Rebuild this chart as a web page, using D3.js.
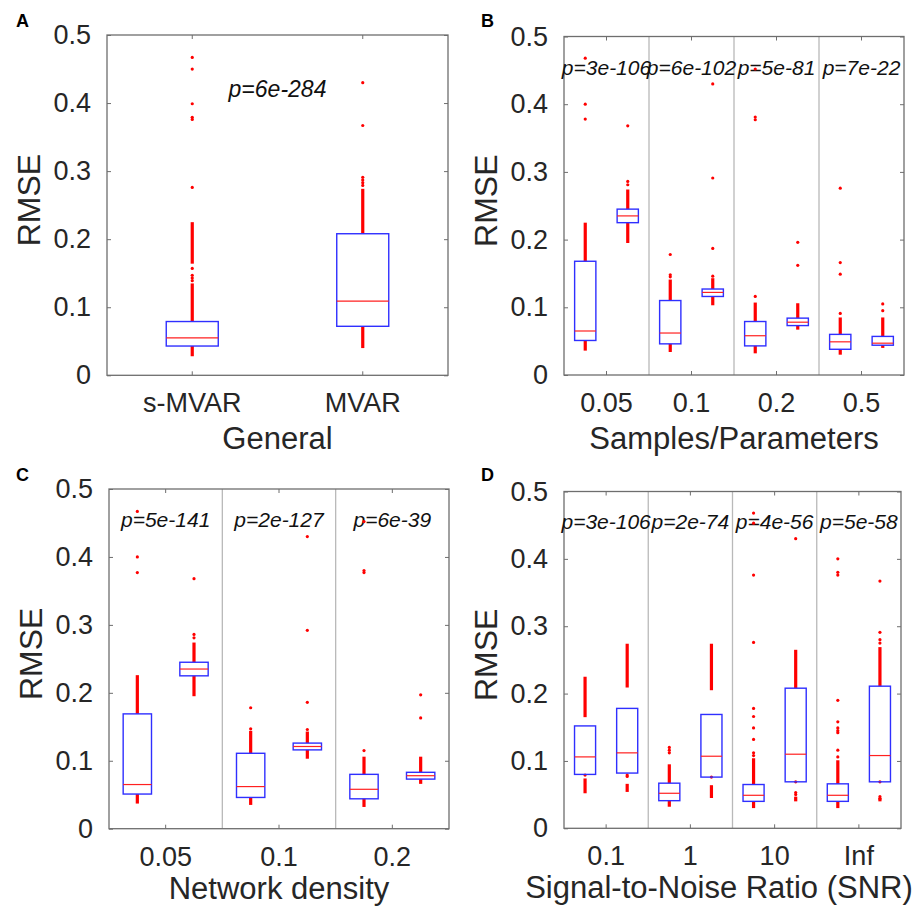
<!DOCTYPE html>
<html><head><meta charset="utf-8">
<script src="https://cdn.jsdelivr.net/npm/d3@7"></script>
<style>body{margin:0;background:#fff} svg{display:block;font-family:"Liberation Sans",Arial,Helvetica,sans-serif}</style>
</head><body><svg id="chart" width="919" height="909"></svg>
<script>
// ---------- data ----------
const seriesNames = ["s-MVAR", "MVAR"];
const yTickValues = [0, 0.1, 0.2, 0.3, 0.4, 0.5];
const yTickLabels = ["0", "0.1", "0.2", "0.3", "0.4", "0.5"];

// Panel A (General) : box stats = [q1, median, q3]
const groupsA = ["General"];
const boxA_s = [[0.043, 0.055, 0.079]];
const boxA_m = [[0.072, 0.109, 0.208]];
const ptsA_s = [[0.467, 0.450, 0.399, 0.379, 0.376, 0.276, 0.157, 0.147, 0.143, 0.139]];
const runsA_s = [[[0.028, 0.043], [0.079, 0.135], [0.164, 0.225]]];
const ptsA_m = [[0.430, 0.367, 0.291, 0.287, 0.283, 0.279]];
const runsA_m = [[[0.040, 0.072], [0.208, 0.274]]];
const pA = ["p=6e-284"];

// Panel B (Samples/Parameters)
const groupsB = ["0.05", "0.1", "0.2", "0.5"];
const boxB_s = [[0.051, 0.065, 0.168], [0.046, 0.062, 0.110], [0.043, 0.058, 0.079], [0.038, 0.049, 0.060]];
const boxB_m = [[0.225, 0.235, 0.245], [0.116, 0.122, 0.127], [0.073, 0.078, 0.084], [0.044, 0.047, 0.057]];
const ptsB_s = [[0.468, 0.400, 0.378], [0.178, 0.148, 0.145], [0.452, 0.381, 0.377, 0.116], [0.276, 0.166, 0.149, 0.091]];
const runsB_s = [[[0.036, 0.051], [0.168, 0.225]], [[0.034, 0.046], [0.110, 0.141]], [[0.032, 0.043], [0.079, 0.107]], [[0.030, 0.038], [0.060, 0.085]]];
const ptsB_m = [[0.368, 0.286, 0.281], [0.430, 0.291, 0.187, 0.146], [0.196, 0.162], [0.105, 0.095]];
const runsB_m = [[[0.195, 0.225], [0.245, 0.274]], [[0.103, 0.116], [0.127, 0.143]], [[0.067, 0.073], [0.084, 0.106]], [[0.040, 0.044], [0.057, 0.085]]];
const pB = ["p=3e-106", "p=6e-102", "p=5e-81", "p=7e-22"];

// Panel C (Network density)
const groupsC = ["0.05", "0.1", "0.2"];
const boxC_s = [[0.051, 0.065, 0.169], [0.046, 0.062, 0.111], [0.044, 0.058, 0.080]];
const boxC_m = [[0.225, 0.235, 0.245], [0.116, 0.121, 0.126], [0.073, 0.078, 0.083]];
const ptsC_s = [[0.467, 0.400, 0.377], [0.178, 0.147], [0.452, 0.380, 0.377, 0.115]];
const runsC_s = [[[0.037, 0.051], [0.169, 0.226]], [[0.035, 0.046], [0.111, 0.144]], [[0.032, 0.044], [0.080, 0.106]]];
const ptsC_m = [[0.368, 0.286, 0.281], [0.430, 0.292, 0.186, 0.146], [0.197, 0.163]];
const runsC_m = [[[0.195, 0.225], [0.245, 0.274]], [[0.103, 0.116], [0.126, 0.143]], [[0.066, 0.073], [0.083, 0.106]]];
const pC = ["p=5e-141", "p=2e-127", "p=6e-39"];

// Panel D (Signal-to-Noise Ratio)
const groupsD = ["0.1", "1", "10", "Inf"];
const boxD_s = [[0.080, 0.106, 0.152], [0.041, 0.052, 0.067], [0.040, 0.049, 0.065], [0.040, 0.049, 0.066]];
const boxD_m = [[0.082, 0.112, 0.178], [0.076, 0.107, 0.169], [0.069, 0.110, 0.208], [0.069, 0.108, 0.211]];
const ptsD_s = [[0.079], [0.120, 0.116, 0.112], [0.468, 0.453, 0.376, 0.276, 0.178, 0.166, 0.149, 0.132, 0.112, 0.108], [0.400, 0.380, 0.376, 0.190, 0.158, 0.149, 0.145, 0.142, 0.116, 0.106]];
const runsD_s = [[[0.052, 0.074], [0.165, 0.225]], [[0.032, 0.041], [0.067, 0.095]], [[0.030, 0.040], [0.065, 0.104]], [[0.030, 0.040], [0.066, 0.101]]];
const ptsD_m = [[0.079, 0.077], [0.076], [0.430, 0.069, 0.053, 0.050], [0.367, 0.291, 0.280, 0.275, 0.069, 0.047, 0.044]];
const runsD_m = [[[0.054, 0.066], [0.209, 0.274]], [[0.045, 0.064], [0.205, 0.274]], [[0.040, 0.047], [0.208, 0.265]], [[0.040, 0.045], [0.211, 0.269]]];
const pD = ["p=3e-106", "p=2e-74", "p=4e-56", "p=5e-58"];

// ---------- layout ----------
const panels = [
  {letter: "A", lx: 16, ly: 27, left: 107, right: 448, top: 35, bottom: 375.3, single: true, boxFrac: 0.305,
   groups: groupsA, box: [boxA_s, boxA_m], pts: [ptsA_s, ptsA_m], runs: [runsA_s, runsA_m], pTexts: pA, pY: 0.421, pSize: 23,
   title: "General", titleDx: 0, titleDy: 74},
  {letter: "B", lx: 481, ly: 27, left: 564, right: 904, top: 36.5, bottom: 375, single: false, boxFrac: 0.5,
   groups: groupsB, box: [boxB_s, boxB_m], pts: [ptsB_s, ptsB_m], runs: [runsB_s, runsB_m], pTexts: pB, pY: 0.455, pSize: 21,
   title: "Samples/Parameters", titleDx: 0, titleDy: 74},
  {letter: "C", lx: 16, ly: 480.5, left: 109, right: 449, top: 489, bottom: 828.7, single: false, boxFrac: 0.5,
   groups: groupsC, box: [boxC_s, boxC_m], pts: [ptsC_s, ptsC_m], runs: [runsC_s, runsC_m], pTexts: pC, pY: 0.455, pSize: 21,
   title: "Network density", titleDx: 0, titleDy: 70},
  {letter: "D", lx: 481, ly: 480.5, left: 564, right: 901, top: 491.5, bottom: 828.3, single: false, boxFrac: 0.5,
   groups: groupsD, box: [boxD_s, boxD_m], pts: [ptsD_s, ptsD_m], runs: [runsD_s, runsD_m], pTexts: pD, pY: 0.455, pSize: 21,
   title: "Signal-to-Noise Ratio (SNR)", titleDx: -13.5, titleDy: 70}
];

const svg = d3.select("#chart");
const TXT = "#262626", FRAME = "#6e6e6e";

panels.forEach(cfg => {
  const g = svg.append("g");
  const y = d3.scaleLinear().domain([0, 0.5]).range([cfg.bottom, cfg.top]);
  const gx = d3.scaleBand().domain(cfg.groups).range([cfg.left, cfg.right]).padding(0);
  const ix = d3.scaleBand().domain(seriesNames).range([0, gx.bandwidth()]).padding(0);
  const bw = ix.bandwidth() * cfg.boxFrac;
  const xAxisScale = cfg.single ? d3.scaleBand().domain(seriesNames).range([cfg.left, cfg.right]) : gx;

  // group separators
  g.selectAll("line.sep").data(cfg.groups.slice(1)).join("line")
    .attr("x1", d => gx(d)).attr("x2", d => gx(d))
    .attr("y1", cfg.top).attr("y2", cfg.bottom)
    .attr("stroke", "#b9b9b9").attr("stroke-width", 1.3);

  // axes (inward ticks)
  const axL = g.append("g").attr("transform", `translate(${cfg.left},0)`)
    .call(d3.axisLeft(y).tickValues(yTickValues).tickSize(-4).tickPadding(16).tickFormat((d, i) => yTickLabels[i]));
  const axR = g.append("g").attr("transform", `translate(${cfg.right},0)`)
    .call(d3.axisRight(y).tickValues(yTickValues).tickSize(-4).tickFormat(""));
  const axB = g.append("g").attr("transform", `translate(0,${cfg.bottom})`)
    .call(d3.axisBottom(xAxisScale).tickSize(-4).tickPadding(18));
  const axT = g.append("g").attr("transform", `translate(0,${cfg.top})`)
    .call(d3.axisTop(xAxisScale).tickSize(-4).tickFormat(""));
  [axL, axR, axB, axT].forEach(a => {
    a.select(".domain").remove();
    a.selectAll(".tick line").attr("stroke", FRAME);
    a.selectAll("text").attr("font-size", 27).attr("fill", TXT)
      .attr("font-family", '"Liberation Sans",Arial,sans-serif');
  });

  // frame
  g.append("rect").attr("x", cfg.left).attr("y", cfg.top)
    .attr("width", cfg.right - cfg.left).attr("height", cfg.bottom - cfg.top)
    .attr("fill", "none").attr("stroke", FRAME).attr("stroke-width", 1.3);

  // p-value texts
  g.selectAll("text.pv").data(cfg.pTexts).join("text")
    .attr("x", (d, i) => gx(cfg.groups[i]) + gx.bandwidth() / 2)
    .attr("y", y(cfg.pY)).attr("dy", "0.36em")
    .attr("text-anchor", "middle").attr("font-style", "italic")
    .attr("font-size", cfg.pSize).attr("fill", "#111").text(d => d);

  // boxes
  cfg.groups.forEach((grp, gi) => {
    seriesNames.forEach((sn, si) => {
      const cx = gx(grp) + ix(sn) + ix.bandwidth() / 2;
      const [q1, med, q3] = cfg.box[si][gi];
      // outlier runs (dense overlapping markers)
      g.selectAll(null).data(cfg.runs[si][gi]).join("line")
        .attr("x1", cx).attr("x2", cx)
        .attr("y1", d => y(d[0])).attr("y2", d => y(d[1]))
        .attr("stroke", "#ff0000").attr("stroke-width", 3.2);
      // isolated outliers
      g.selectAll(null).data(cfg.pts[si][gi]).join("circle")
        .attr("cx", cx).attr("cy", d => y(d)).attr("r", 1.6).attr("fill", "#ff0000");
      // box
      g.append("rect").attr("x", cx - bw / 2).attr("y", y(q3))
        .attr("width", bw).attr("height", y(q1) - y(q3))
        .attr("fill", "none").attr("stroke", "#2f2fff").attr("stroke-width", 1.4);
      // median
      g.append("line").attr("x1", cx - bw / 2).attr("x2", cx + bw / 2)
        .attr("y1", y(med)).attr("y2", y(med))
        .attr("stroke", "#ff2020").attr("stroke-width", 1.2);
    });
  });

  // axis titles
  g.append("text").attr("transform", `translate(${cfg.left - 79},${(cfg.top + cfg.bottom) / 2 - 5}) rotate(-90)`)
    .attr("dy", "0.36em").attr("text-anchor", "middle").attr("font-size", 32).attr("fill", TXT).text("RMSE");
  g.append("text").attr("x", (cfg.left + cfg.right) / 2 + cfg.titleDx).attr("y", cfg.bottom + cfg.titleDy)
    .attr("text-anchor", "middle").attr("font-size", 31).attr("fill", TXT).text(cfg.title);

  // panel letter
  svg.append("text").attr("x", cfg.lx).attr("y", cfg.ly)
    .attr("font-size", 18).attr("font-weight", "bold").attr("fill", "#000").text(cfg.letter);
});
</script>
</body></html>
